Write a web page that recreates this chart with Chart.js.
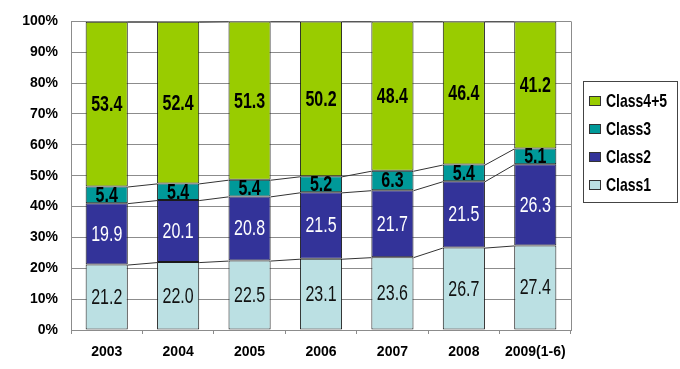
<!DOCTYPE html>
<html>
<head>
<meta charset="utf-8">
<script src="https://cdn.jsdelivr.net/npm/chart.js@4/dist/chart.umd.min.js"></script>
<style>
  html, body { margin: 0; padding: 0; background: #fff; }
  #wrap { width: 680px; height: 369px; }
</style>
</head>
<body>
<div id="wrap"><canvas id="chart" width="680" height="369"></canvas></div>
<script>
const years = ['2003', '2004', '2005', '2006', '2007', '2008', '2009(1-6)'];
const class1 = [21.2, 22.0, 22.5, 23.1, 23.6, 26.7, 27.4];
const class2 = [19.9, 20.1, 20.8, 21.5, 21.7, 21.5, 26.3];
const class3 = [5.4, 5.4, 5.4, 5.2, 6.3, 5.4, 5.1];
const class45 = [53.4, 52.4, 51.3, 50.2, 48.4, 46.4, 41.2];
const yTicks = [0, 10, 20, 30, 40, 50, 60, 70, 80, 90, 100];

const FONT = '"Liberation Sans", Arial, sans-serif';
const STRETCH = 1.35;

function stretchText(ctx, text, x, y, sy) {
    ctx.save();
    ctx.translate(x, y);
    ctx.scale(1, sy);
    ctx.fillText(text, 0, 0);
    ctx.restore();
}

// value labels inside each segment
const segLabels = {
    id: 'segLabels',
    afterDatasetsDraw(chart) {
        const ctx = chart.ctx;
        chart.data.datasets.forEach(function (ds, i) {
            const meta = chart.getDatasetMeta(i);
            ctx.save();
            ctx.font = ds.labelFont;
            ctx.fillStyle = ds.labelColor;
            ctx.textAlign = 'center';
            ctx.textBaseline = 'middle';
            meta.data.forEach(function (bar, j) {
                const mid = (bar.y + bar.base) / 2;
                stretchText(ctx, ds.data[j].toFixed(1), bar.x, mid + 1, STRETCH);
            });
            ctx.restore();
        });
    }
};

// series lines between the stacks, plus the plot frame on the right
const seriesLines = {
    id: 'seriesLines',
    afterDatasetsDraw(chart) {
        const ctx = chart.ctx;
        const area = chart.chartArea;
        ctx.save();
        ctx.strokeStyle = '#333';
        ctx.lineWidth = 1;
        chart.data.datasets.forEach(function (ds, i) {
            const bars = chart.getDatasetMeta(i).data;
            for (let j = 0; j < bars.length - 1; j++) {
                const a = bars[j], b = bars[j + 1];
                ctx.beginPath();
                ctx.moveTo(a.x + a.width / 2, a.y + 0.5);
                ctx.lineTo(b.x - b.width / 2, b.y + 0.5);
                ctx.stroke();
            }
        });
        ctx.strokeStyle = '#8c8c8c';
        ctx.beginPath();
        ctx.moveTo(area.right + 0.5, area.top);
        ctx.lineTo(area.right + 0.5, area.bottom);
        ctx.stroke();
        ctx.restore();
    }
};

// boxed legend on the right, top series first
const boxLegend = {
    id: 'boxLegend',
    afterDraw(chart) {
        const ctx = chart.ctx;
        const left = 583, top = 81, w = 94, h = 121;
        ctx.save();
        ctx.fillStyle = '#fff';
        ctx.fillRect(left, top, w, h);
        ctx.strokeStyle = '#444';
        ctx.lineWidth = 1;
        ctx.strokeRect(left + 0.5, top + 0.5, w, h);
        const sets = chart.data.datasets.slice().reverse();
        sets.forEach(function (ds, k) {
            const cy = 101 + k * 28;
            ctx.fillStyle = ds.backgroundColor;
            ctx.fillRect(589, cy - 4, 11, 9);
            ctx.strokeStyle = '#333';
            ctx.strokeRect(589.5, cy - 4.5, 11, 9);
            ctx.fillStyle = '#000';
            ctx.font = 'bold 14px ' + FONT;
            ctx.textAlign = 'left';
            ctx.textBaseline = 'middle';
            stretchText(ctx, ds.label, 606, cy + 1, 1.3);
        });
        ctx.restore();
    }
};

function makeSet(label, data, color, labelColor, labelFont) {
    return {
        label: label,
        data: data,
        backgroundColor: color,
        borderColor: '#1a1a1a',
        borderWidth: 1,
        borderSkipped: false,
        labelColor: labelColor,
        labelFont: labelFont
    };
}

new Chart(document.getElementById('chart'), {
    type: 'bar',
    data: {
        labels: years,
        datasets: [
            makeSet('Class1', class1, '#BBE0E3', '#111', '16px ' + FONT),
            makeSet('Class2', class2, '#333399', '#fff', '16px ' + FONT),
            makeSet('Class3', class3, '#009999', '#000', 'bold 16px ' + FONT),
            makeSet('Class4+5', class45, '#99CC00', '#000', 'bold 16px ' + FONT)
        ]
    },
    options: {
        responsive: false,
        animation: false,
        layout: { padding: { left: 0, right: 109, top: 18, bottom: 0 } },
        datasets: {
            bar: { categoryPercentage: 1.0, barPercentage: 0.59 }
        },
        scales: {
            x: {
                stacked: true,
                grid: {
                    display: true,
                    offset: true,
                    drawOnChartArea: false,
                    drawTicks: true,
                    tickLength: 4,
                    color: '#8c8c8c'
                },
                border: { color: '#8c8c8c' },
                ticks: {
                    color: '#000',
                    padding: 10,
                    maxRotation: 0,
                    autoSkip: false,
                    font: { family: FONT, size: 14, weight: 'bold' }
                },
                afterFit(scale) { scale.height = 39; }
            },
            y: {
                stacked: true,
                min: 0,
                max: 100,
                afterBuildTicks(scale) {
                    scale.ticks = yTicks.map(function (v) { return { value: v }; });
                },
                grid: { color: '#8c8c8c', drawTicks: false },
                border: { color: '#8c8c8c' },
                ticks: {
                    color: '#000',
                    padding: 13,
                    callback: function (v) { return v + '%'; },
                    font: { family: FONT, size: 14, weight: 'bold' }
                },
                afterFit(scale) { scale.width = 71; }
            }
        },
        plugins: {
            legend: { display: false },
            tooltip: { enabled: false }
        }
    },
    plugins: [segLabels, seriesLines, boxLegend]
});
</script>
</body>
</html>
